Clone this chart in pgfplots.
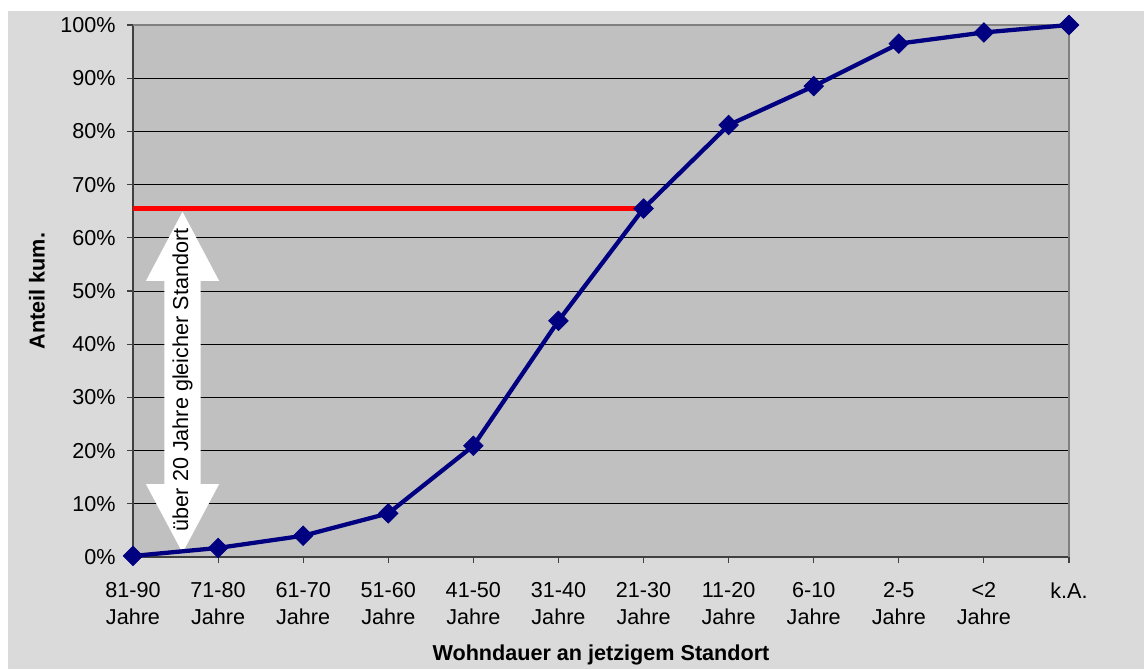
\documentclass[border=0pt]{standalone}
\usepackage{fontspec}
\setmainfont{Liberation Sans}
\usepackage{pgfplots}
\pgfplotsset{compat=1.18}
\definecolor{outerbg}{RGB}{218,218,218}
\definecolor{plotbg}{RGB}{192,192,192}
\definecolor{navyline}{RGB}{0,0,128}
\definecolor{axisdark}{RGB}{64,64,64}
\newcommand{\lblfont}{\fontsize{16.2}{20.25}\selectfont}
\begin{document}
\begin{tikzpicture}
\fill[white] (-99.75pt,-84pt) rectangle (758.25pt,417.75pt);
\fill[outerbg] (-93.75pt,-84pt) rectangle (758.25pt,409.5pt);
\begin{axis}[
  scale only axis,
  width=702pt, height=399pt,
  xmin=0, xmax=11, ymin=0, ymax=100,
  axis background/.style={fill=plotbg},
  axis x line*=bottom, axis y line*=left,
  axis line style={axisdark, line width=1.2pt, -},
  xtick={0,...,11},
  xticklabels={{81-90\\Jahre},{71-80\\Jahre},{61-70\\Jahre},{51-60\\Jahre},{41-50\\Jahre},{31-40\\Jahre},{21-30\\Jahre},{11-20\\Jahre},{6-10\\Jahre},{2-5\\Jahre},{<2\\Jahre},{k.A.\\\strut}},
  ytick={0,10,...,100},
  yticklabels={0\%,10\%,20\%,30\%,40\%,50\%,60\%,70\%,80\%,90\%,100\%},
  tick align=outside,
  major tick length=4.5pt,
  tick style={axisdark, line width=0.8pt},
  xticklabel style={font=\lblfont, align=center, anchor=north, yshift=-11pt},
  yticklabel style={font=\lblfont, anchor=east, xshift=-5pt},
  ymajorgrids,
  major grid style={black, line width=0.75pt},
  xlabel={\textbf{Wohndauer an jetzigem Standort}},
  ylabel={\textbf{Anteil kum.}},
  xlabel style={font=\lblfont, at={(axis description cs:0.5,-0.1842)}, anchor=center},
  ylabel style={font=\lblfont, at={(axis description cs:-0.1026,0.5)}, anchor=center},
  clip=false,
]
\draw[gray, line width=1pt] (axis cs:0,100) -- (axis cs:11,100) -- (axis cs:11,0);
\fill[white] (axis cs:0.582,64.9) -- (axis cs:1.012,51.9) -- (axis cs:0.796,51.9)
  -- (axis cs:0.796,13.7) -- (axis cs:1.012,13.7) -- (axis cs:0.582,0.8)
  -- (axis cs:0.152,13.7) -- (axis cs:0.368,13.7) -- (axis cs:0.368,51.9)
  -- (axis cs:0.152,51.9) -- cycle;
\node[rotate=90, font=\lblfont, anchor=center] at (axis cs:0.582,33.3) {über 20 Jahre gleicher Standort};
\addplot[red, line width=3.75pt, no markers] coordinates {(0,65.5) (6,65.5)};
\addplot[navyline, line width=3.2pt, mark=square*, mark size=5.2pt,
  mark options={rotate=45, solid, fill=navyline, draw=navyline, line width=0.5pt}]
  coordinates {
  (0,0.2) (1,1.7) (2,4.0) (3,8.2) (4,20.9) (5,44.4) (6,65.5)
  (7,81.2) (8,88.5) (9,96.5) (10,98.6) (11,100)
  };
\end{axis}
\pgfresetboundingbox
\useasboundingbox (-99.75pt,-84pt) rectangle (758.25pt,417.75pt);
\end{tikzpicture}
\end{document}
